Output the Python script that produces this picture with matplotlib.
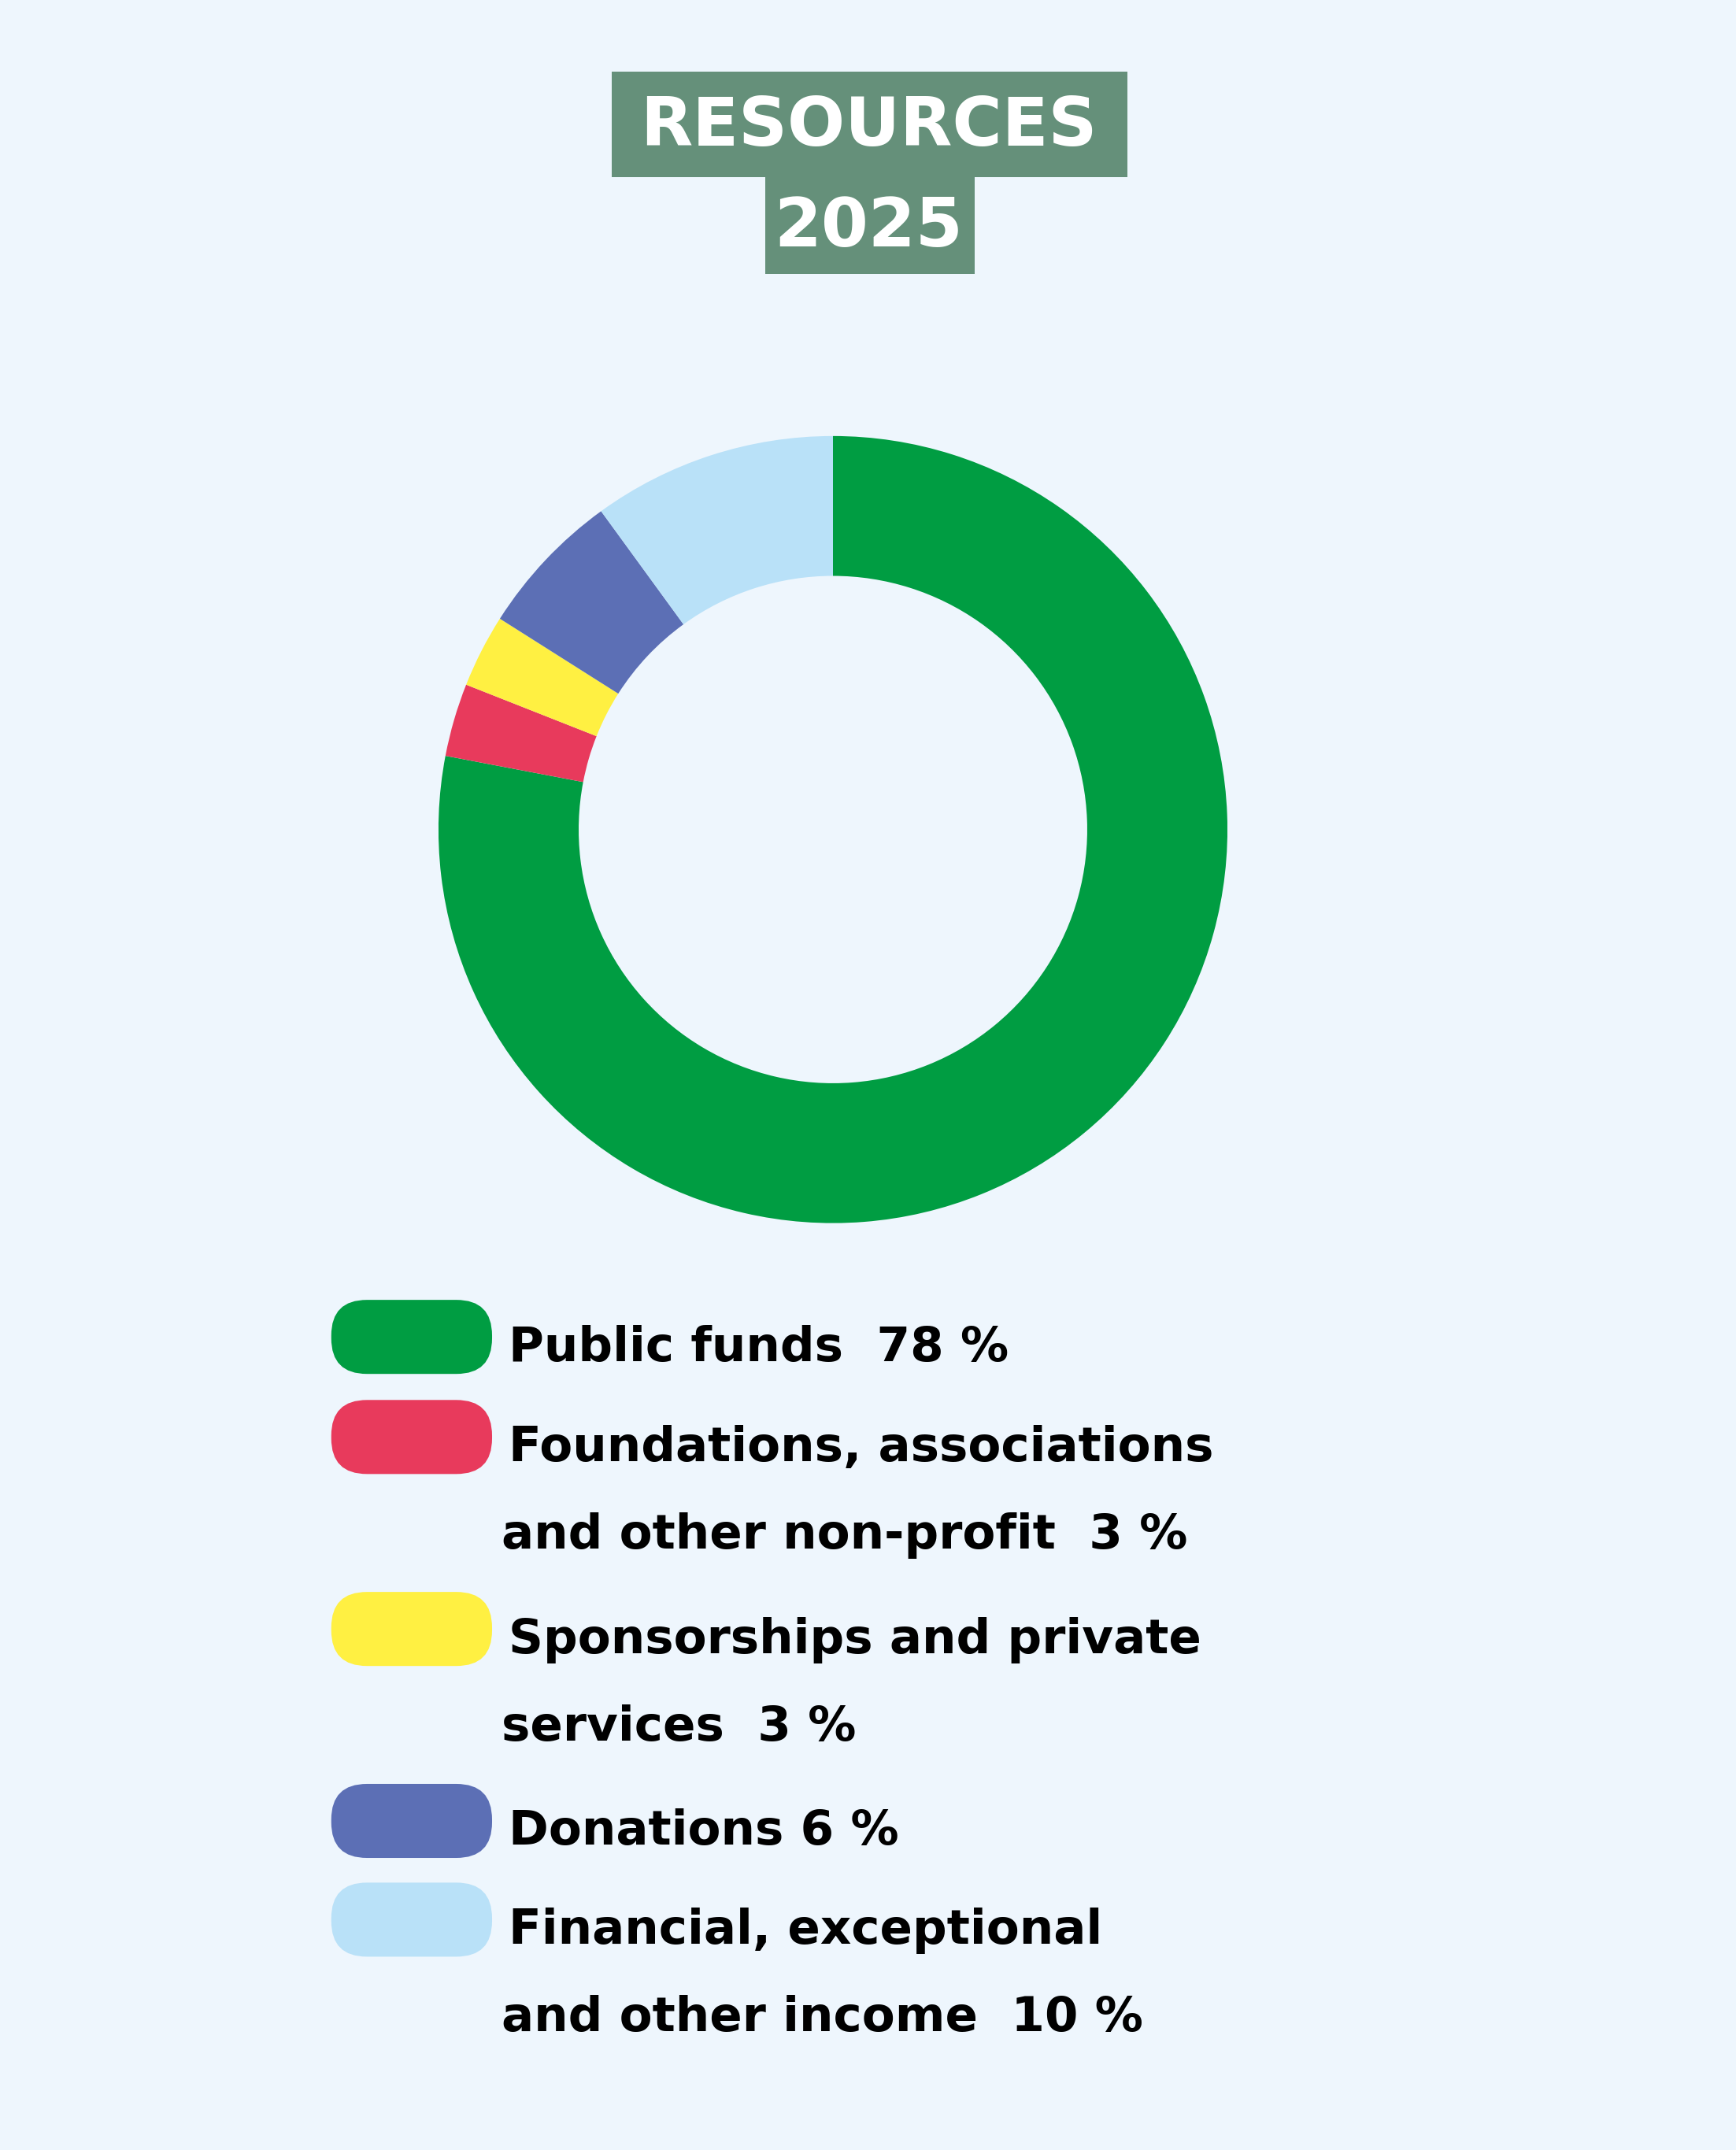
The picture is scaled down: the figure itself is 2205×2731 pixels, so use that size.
import matplotlib
matplotlib.use("Agg")
import matplotlib.pyplot as plt
from matplotlib.patches import FancyBboxPatch

labels = ["Public funds  78 %", "Foundations, associations\nand other non-profit  3 %",
          "Sponsorships and private\nservices  3 %", "Donations 6 %",
          "Financial, exceptional\nand other income  10 %"]
values = [78, 3, 3, 6, 10]
colors = ["#009d42", "#e83a5c", "#fff042", "#5c6fb5", "#b9e1f8"]
title_lines = ["RESOURCES", "2025"]

BG = "#eef6fd"
W, H = 1263, 1568
fig = plt.figure(figsize=(22.05, 27.31), dpi=100, facecolor=BG)

# donut
cx, cy, r = 606, 605, 287
pax = fig.add_axes([(cx - r) / W, 1 - (cy + r) / H, 2 * r / W, 2 * r / H])
pax.pie(values, colors=colors, startangle=90, counterclock=False, radius=1,
        wedgeprops=dict(width=102 / 287, linewidth=0))
pax.set_xlim(-1, 1); pax.set_ylim(-1, 1)
pax.set_aspect("auto")
pax.set_facecolor("none")

ov = fig.add_axes([0, 0, 1, 1], facecolor="none")
ov.set_xlim(0, W); ov.set_ylim(H, 0); ov.axis("off")

# title boxes
tbg = "#65907a"
ov.add_patch(plt.Rectangle((445, 52), 375, 77, color=tbg, lw=0))
ov.add_patch(plt.Rectangle((557, 128), 152, 72, color=tbg, lw=0))
tfont = dict(family=["DejaVu Sans"], weight="bold", color="white",
             fontsize=62, ha="center", va="center")
ov.text(632, 93, title_lines[0], **tfont)
ov.text(632, 166, title_lines[1], **tfont)

# legend
sw_y = [975, 1048, 1188, 1328, 1400]
lfont = dict(family=["Liberation Sans Narrow", "DejaVu Sans"], weight="bold",
             color="black", fontsize=44, va="center", ha="left")
for y, c, lab in zip(sw_y, colors, labels):
    ov.add_patch(FancyBboxPatch((241 + 26, y - 1), 117 - 52, 2,
                                boxstyle="round,pad=26", fc=c, ec="none"))
    lines = lab.split("\n")
    ov.text(370, y + 8, lines[0], **lfont)
    if len(lines) > 1:
        ov.text(365, y + 72, lines[1], **lfont)

fig.savefig("out.png", dpi=100, facecolor=BG)
